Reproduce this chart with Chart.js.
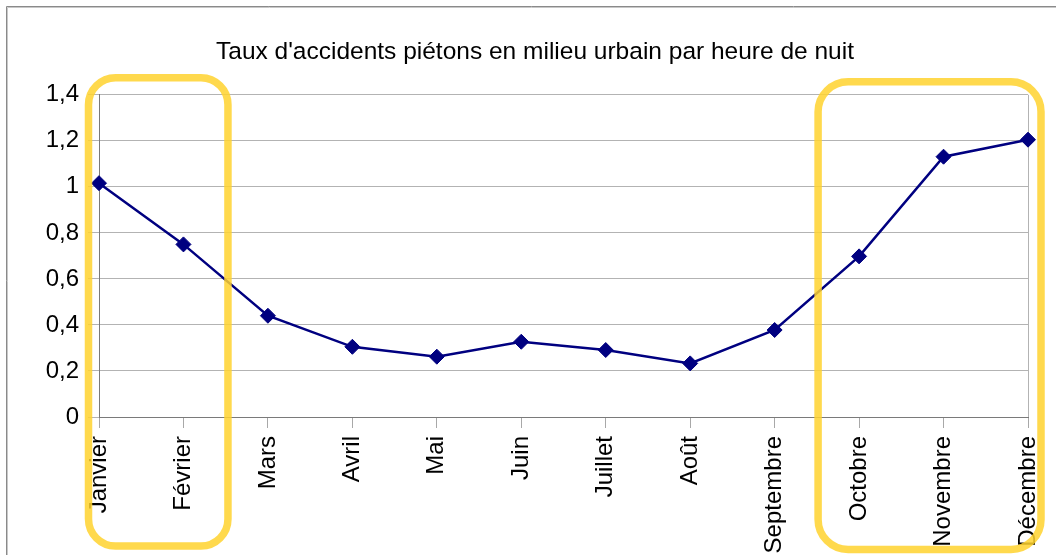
<!DOCTYPE html>
<html>
<head>
<meta charset="utf-8">
<script src="https://cdn.jsdelivr.net/npm/chart.js@4/dist/chart.umd.min.js"></script>
<style>
  html, body { margin: 0; padding: 0; background: #ffffff; }
  canvas { display: block; }
</style>
</head>
<body>
<canvas id="c" width="1056" height="555"></canvas>
<script>
const months = ['Janvier','Février','Mars','Avril','Mai','Juin','Juillet','Août','Septembre','Octobre','Novembre','Décembre'];
const rates = [1.016, 0.75, 0.44, 0.305, 0.262, 0.327, 0.291, 0.233, 0.378, 0.698, 1.131, 1.205];
const yTickValues = [0, 0.2, 0.4, 0.6, 0.8, 1, 1.2, 1.4];
const yTickLabels = ['0', '0,2', '0,4', '0,6', '0,8', '1', '1,2', '1,4'];
const titleText = "Taux d'accidents piétons en milieu urbain par heure de nuit";
const highlightedRanges = [[0, 1], [9, 11]];

const FONT = "'Liberation Sans', Arial, sans-serif";

const framePlugin = {
  id: 'frame',
  beforeDraw(chart) {
    const ctx = chart.ctx;
    ctx.save();
    ctx.fillStyle = '#ffffff';
    ctx.fillRect(0, 0, chart.width, chart.height);
    ctx.lineWidth = 1;
    ctx.strokeStyle = '#8a8a8a';
    ctx.beginPath();
    ctx.moveTo(6.5, chart.height);
    ctx.lineTo(6.5, 6.5);
    ctx.lineTo(chart.width, 6.5);
    ctx.stroke();
    ctx.strokeStyle = '#c8c8c8';
    ctx.beginPath();
    ctx.moveTo(7.5, chart.height);
    ctx.lineTo(7.5, 7.5);
    ctx.lineTo(chart.width, 7.5);
    ctx.stroke();
    ctx.restore();
  }
};

function roundRectPath(ctx, x0, y0, x1, y1, r) {
  ctx.beginPath();
  ctx.moveTo(x0 + r, y0);
  ctx.lineTo(x1 - r, y0);
  ctx.arcTo(x1, y0, x1, y0 + r, r);
  ctx.lineTo(x1, y1 - r);
  ctx.arcTo(x1, y1, x1 - r, y1, r);
  ctx.lineTo(x0 + r, y1);
  ctx.arcTo(x0, y1, x0, y1 - r, r);
  ctx.lineTo(x0, y0 + r);
  ctx.arcTo(x0, y0, x0 + r, y0, r);
  ctx.closePath();
}

const highlightPlugin = {
  id: 'highlight',
  afterDraw(chart) {
    const ctx = chart.ctx;
    const xs = chart.scales.x;
    const ys = chart.scales.y;
    const top = ys.getPixelForValue(1.4);
    ctx.save();
    ctx.strokeStyle = 'rgba(255, 210, 46, 0.85)';
    ctx.lineWidth = 7.5;
    const r1 = highlightedRanges[0];
    roundRectPath(ctx, xs.getPixelForValue(r1[0]) - 10.5, top - 17,
                  xs.getPixelForValue(r1[1]) + 44.5, chart.height - 9, 27);
    ctx.stroke();
    const r2 = highlightedRanges[1];
    roundRectPath(ctx, xs.getPixelForValue(r2[0]) - 41, top - 13,
                  xs.getPixelForValue(r2[1]) + 13, chart.height - 5.5, 30);
    ctx.stroke();
    ctx.restore();
  }
};

new Chart(document.getElementById('c'), {
  type: 'line',
  data: {
    labels: months,
    datasets: [{
      data: rates,
      borderColor: '#000080',
      backgroundColor: '#000080',
      borderWidth: 2.5,
      pointStyle: 'rectRot',
      pointRadius: 7.5,
      pointBorderWidth: 1,
      pointBackgroundColor: '#000080',
      pointBorderColor: '#000080',
      tension: 0,
      fill: false
    }]
  },
  options: {
    responsive: false,
    animation: false,
    devicePixelRatio: 1,
    layout: { padding: { left: 42, right: 28, top: 0, bottom: 0 } },
    plugins: {
      legend: { display: false },
      tooltip: { enabled: false },
      title: {
        display: true,
        text: titleText,
        color: '#000000',
        font: { family: FONT, size: 24.5, weight: 'normal' },
        padding: { top: 37.7, bottom: 27.7 }
      }
    },
    scales: {
      x: {
        type: 'category',
        offset: false,
        afterFit(scale) {
          scale.height = 138;
          scale.paddingLeft = 0;
          scale.paddingRight = 0;
        },
        grid: {
          color: (c) => (c.index === months.length - 1 ? '#b3b3b3' : 'rgba(0,0,0,0)'),
          tickColor: '#a8a8a8',
          tickLength: 11,
          drawOnChartArea: true,
          lineWidth: 1
        },
        border: { color: '#7a7a7a', width: 1 },
        ticks: {
          autoSkip: false,
          minRotation: 90,
          maxRotation: 90,
          padding: 8,
          color: '#000000',
          font: { family: FONT, size: 24 }
        }
      },
      y: {
        min: 0,
        max: 1.4,
        afterFit(scale) {
          scale.width = 57;
          scale.paddingTop = 0;
          scale.paddingBottom = 0;
        },
        afterBuildTicks(scale) { scale.ticks = yTickValues.map(v => ({ value: v })); },
        grid: {
          color: (c) => (c.index === 0 ? '#7a7a7a' : '#b3b3b3'),
          tickColor: '#b3b3b3',
          tickLength: 11,
          lineWidth: 1
        },
        border: { color: '#7a7a7a', width: 1 },
        ticks: {
          padding: 9,
          color: '#000000',
          font: { family: FONT, size: 24 },
          callback: (v, i) => yTickLabels[i]
        }
      }
    }
  },
  plugins: [framePlugin, highlightPlugin]
});
</script>
</body>
</html>
